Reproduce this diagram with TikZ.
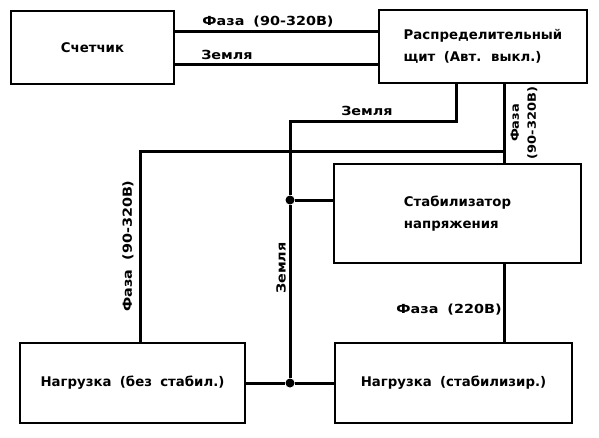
\documentclass[tikz,border=0pt]{standalone}
\usepackage{fontspec}
\setmainfont[WordSpace=1.8]{DejaVu Sans}
\newfontfamily\lblfont[FakeStretch=1.15,WordSpace=1.8]{DejaVu Sans}
\tikzset{
  schema/.style={x=1pt,y=-1pt},
  blok/.style={draw,line width=2.2pt,inner sep=0pt,align=left,font=\fontsize{13.3}{22}\selectfont\bfseries},
  wire/.style={line width=3pt},
  lbl/.style={font=\lblfont\fontsize{12.5}{18}\selectfont\bfseries,inner sep=0pt,align=center},
  spoj/.style={circle,fill,inner sep=0pt,minimum size=9pt}
}

\begin{document}
\begin{tikzpicture}[schema]
    \useasboundingbox (0,0) rectangle (599,437);
    % boxes
    \node[blok,minimum width=163pt,minimum height=73pt] (schetchik) at (92.5,47.5) {Счетчик};
    \node[blok,minimum width=208pt,minimum height=73pt] (schit) at (483,46.5) {Распределительный\\щит (Авт. выкл.)};
    \node[blok,minimum width=247pt,minimum height=99pt] (stab) at (457.5,213.5) {Стабилизатор\\напряжения};
    \node[blok,minimum width=225pt,minimum height=80pt] (load1) at (132.5,383) {Нагрузка (без стабил.)};
    \node[blok,minimum width=237pt,minimum height=80pt] (load2) at (453.5,383) {Нагрузка (стабилизир.)};
    % junctions
    \node[spoj] (zt) at (290,200) {};
    \node[spoj] (zb) at (290,383) {};
    \coordinate (faza) at (504,151);
    % meter to board
    \draw[wire] (schetchik.east |- 0,31) -- (schit.west |- 0,31); % phase
    \draw[wire] (schetchik.east |- 0,64) -- (schit.west |- 0,64); % ground
    % ground
    \draw[wire] (schit.south -| 456,0) |- (290,121) -- (zt);
    \draw[wire] (zt) -- (zb);
    \draw[wire] (zt) -- (zt -| stab.west);
    \draw[wire] (load1.east) -- (zb) -- (load2.west);
    % phase
    \draw[wire] (schit.south -| 504,0) -- (stab.north -| 504,0);
    \draw[wire] (faza) -| (load1.north -| 140,0);
    \draw[wire] (stab.south -| 504,0) -- (load2.north -| 504,0);
    % labels
    \node[lbl] (l1) at (268,22) {Фаза (90-320В)};
    \node[lbl] (l2) at (227,55) {Земля};
    \node[lbl] (l3) at (367,111) {Земля};
    \node[lbl,rotate=90,font=\lblfont\fontsize{11.3}{17}\selectfont\bfseries] (l4) at (524,123) {Фаза\\(90-320В)};
    \node[lbl,rotate=90] (l5) at (128,246) {Фаза (90-320В)};
    \node[lbl,rotate=90] (l6) at (281,268) {Земля};
    \node[lbl] (l7) at (449,310) {Фаза (220В)};
\end{tikzpicture}
\end{document}
